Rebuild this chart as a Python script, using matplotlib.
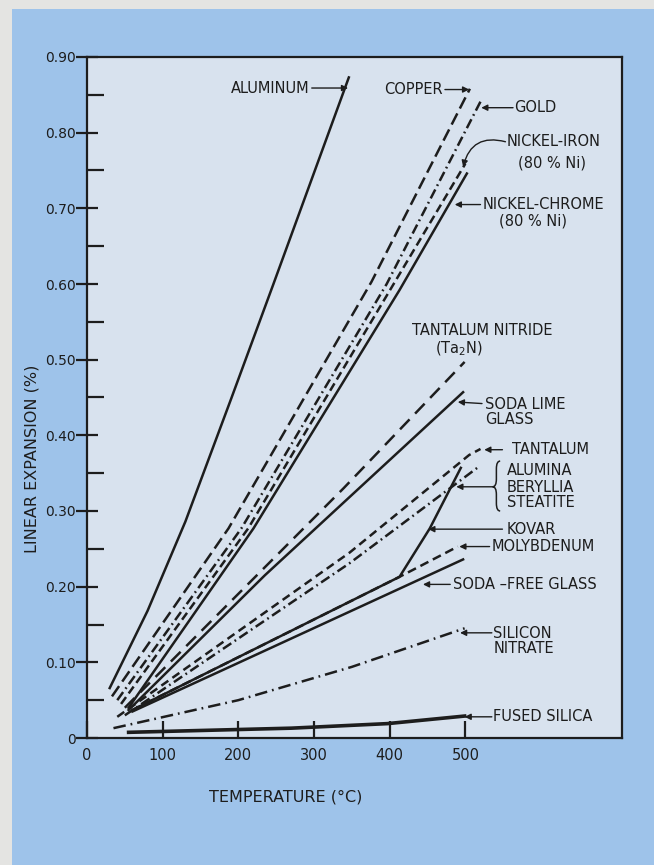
import matplotlib.pyplot as plt
from matplotlib.patches import Rectangle, PathPatch
from matplotlib.path import Path

# temperature (deg C) / linear expansion (%)
aluminum_t = [30, 80, 130, 190, 246, 346]
aluminum_e = [0.066, 0.168, 0.286, 0.447, 0.599, 0.873]
copper_t = [33, 187, 376, 506]
copper_e = [0.055, 0.277, 0.603, 0.858]
gold_t = [40, 204, 396, 521]
gold_e = [0.050, 0.277, 0.600, 0.843]
nickel_iron_t = [45, 213, 407, 500]
nickel_iron_e = [0.045, 0.277, 0.603, 0.759]
nickel_chrome_t = [55, 220, 413, 502]
nickel_chrome_e = [0.040, 0.277, 0.592, 0.746]
ta_nitride_t = [50, 339, 499]
ta_nitride_e = [0.040, 0.330, 0.497]
soda_lime_t = [55, 235, 497]
soda_lime_e = [0.037, 0.215, 0.457]
tantalum_t = [40, 347, 505, 520]
tantalum_e = [0.028, 0.245, 0.374, 0.382]
alumina_t = [50, 347, 517]
alumina_e = [0.030, 0.231, 0.358]
kovar_t = [60, 413, 453, 494]
kovar_e = [0.037, 0.213, 0.277, 0.357]
molybdenum_t = [60, 413, 490]
molybdenum_e = [0.037, 0.213, 0.253]
soda_free_t = [60, 182, 497]
soda_free_e = [0.035, 0.091, 0.236]
si_nitrate_t = [35, 200, 350, 499]
si_nitrate_e = [0.013, 0.050, 0.094, 0.145]
fused_silica_t = [55, 270, 397, 499]
fused_silica_e = [0.0075, 0.013, 0.019, 0.029]

x_ticks = [0, 100, 200, 300, 400, 500]
y_ticks = [0, 0.1, 0.2, 0.3, 0.4, 0.5, 0.6, 0.7, 0.8, 0.9]
y_tick_labels = ['0', '0.10', '0.20', '0.30', '0.40', '0.50', '0.60', '0.70', '0.80', '0.90']

ink = '#1d1d1d'
plt.rcParams['font.family'] = 'DejaVu Sans'
plt.rcParams['mathtext.default'] = 'regular'

fig = plt.figure(figsize=(6.54, 8.65), dpi=100)
fig.patch.set_facecolor('#e4e4e2')
fig.add_artist(Rectangle((12 / 654, 0), 1, 1 - 9 / 865, transform=fig.transFigure,
                         facecolor='#9ec3ea', edgecolor='none', zorder=-1))

ax = fig.add_axes([87 / 654, 1 - 738 / 865, 535 / 654, 681 / 865])
ax.set_facecolor('#d8e2ee')

lw = 1.8
ax.plot(aluminum_t, aluminum_e, color=ink, lw=lw)
ax.plot(copper_t, copper_e, color=ink, lw=lw, linestyle=(0, (5, 2.2)))
ax.plot(gold_t, gold_e, color=ink, lw=lw, linestyle=(0, (4, 1.6, 0.7, 1.6)))
ax.plot(nickel_iron_t, nickel_iron_e, color=ink, lw=lw, linestyle=(0, (3.4, 1.8)))
ax.plot(nickel_chrome_t, nickel_chrome_e, color=ink, lw=lw)
ax.plot(ta_nitride_t, ta_nitride_e, color=ink, lw=lw, linestyle=(0, (5.5, 3.2)))
ax.plot(soda_lime_t, soda_lime_e, color=ink, lw=lw)
ax.plot(tantalum_t, tantalum_e, color=ink, lw=lw, linestyle=(0, (3.4, 2)))
ax.plot(alumina_t, alumina_e, color=ink, lw=lw, linestyle=(0, (4, 1.6, 0.7, 1.6)))
ax.plot(molybdenum_t, molybdenum_e, color=ink, lw=lw, linestyle=(0, (3.6, 2)))
ax.plot(kovar_t, kovar_e, color=ink, lw=lw)
ax.plot(soda_free_t, soda_free_e, color=ink, lw=lw)
ax.plot(si_nitrate_t, si_nitrate_e, color=ink, lw=lw, linestyle=(0, (5, 2, 0.7, 2)))
ax.plot(fused_silica_t, fused_silica_e, color=ink, lw=2.6)

ax.set_xlim(0, 707)
ax.set_ylim(0, 0.9)
ax.set_xticks(x_ticks)
ax.set_yticks(y_ticks)
ax.set_yticklabels(y_tick_labels)
ax.set_yticks([0.05 + 0.1 * i for i in range(9)], minor=True)
ax.tick_params(axis='x', direction='in', length=12, width=1.6, pad=7, labelsize=10.5, colors=ink)
ax.tick_params(axis='y', which='major', direction='inout', length=16, width=1.6, pad=0,
               labelsize=10, colors=ink)
ax.tick_params(axis='y', which='minor', direction='in', length=12, width=1.6, colors=ink)
for s in ax.spines.values():
    s.set_linewidth(1.6)
    s.set_color(ink)

ax.set_xlabel('TEMPERATURE (°C)', fontsize=11.5, color=ink)
ax.xaxis.set_label_coords(0.372, -0.076)
ax.set_ylabel('LINEAR EXPANSION (%)', fontsize=11.5, color=ink, va='center')
ax.yaxis.set_label_coords(-0.103, 0.41)

fs = 10.5
arrow = dict(arrowstyle='-|>', color=ink, lw=1.0, mutation_scale=9, shrinkA=0, shrinkB=0)


def pointer(t0, e0, t1, e1, rad=0.0):
    props = dict(arrow)
    if rad:
        props['connectionstyle'] = 'arc3,rad=%s' % rad
    ax.annotate('', xy=(t1, e1), xytext=(t0, e0), arrowprops=props)


def brace(tip, stem, end, top, mid, bottom):
    r = (top - mid) * 0.3
    verts = [(end, top), (stem, top), (stem, top - r), (stem, mid + r),
             (stem, mid), (tip, mid), (stem, mid), (stem, mid - r),
             (stem, bottom + r), (stem, bottom), (end, bottom)]
    codes = [Path.MOVETO, Path.CURVE3, Path.CURVE3, Path.LINETO,
             Path.CURVE3, Path.CURVE3, Path.CURVE3, Path.CURVE3,
             Path.LINETO, Path.CURVE3, Path.CURVE3]
    ax.add_patch(PathPatch(Path(verts, codes), facecolor='none', edgecolor=ink, lw=1.1))


ax.text(294, 0.859, 'ALUMINUM', ha='right', va='center', fontsize=fs, color=ink)
pointer(297, 0.859, 345, 0.859)
ax.text(470, 0.857, 'COPPER', ha='right', va='center', fontsize=fs, color=ink)
pointer(473, 0.857, 505, 0.857)
ax.text(565, 0.833, 'GOLD', ha='left', va='center', fontsize=fs, color=ink)
pointer(563, 0.833, 521, 0.833)
ax.text(555, 0.788, 'NICKEL-IRON', ha='left', va='center', fontsize=fs, color=ink)
ax.text(569, 0.760, '(80 % Ni)', ha='left', va='center', fontsize=fs, color=ink)
pointer(553, 0.788, 497, 0.755, rad=0.5)
ax.text(523, 0.705, 'NICKEL-CHROME', ha='left', va='center', fontsize=fs, color=ink)
ax.text(545, 0.683, '(80 % Ni)', ha='left', va='center', fontsize=fs, color=ink)
pointer(520, 0.705, 486, 0.705)
ax.text(429, 0.539, 'TANTALUM NITRIDE', ha='left', va='center', fontsize=fs, color=ink)
ax.text(460, 0.515, '(Ta$_2$N)', ha='left', va='center', fontsize=fs, color=ink)
ax.text(526, 0.441, 'SODA LIME', ha='left', va='center', fontsize=fs, color=ink)
ax.text(526, 0.421, 'GLASS', ha='left', va='center', fontsize=fs, color=ink)
pointer(522, 0.442, 490, 0.444)
ax.text(561, 0.381, 'TANTALUM', ha='left', va='center', fontsize=fs, color=ink)
pointer(549, 0.381, 525, 0.381)
ax.text(555, 0.353, 'ALUMINA', ha='left', va='center', fontsize=fs, color=ink)
ax.text(555, 0.331, 'BERYLLIA', ha='left', va='center', fontsize=fs, color=ink)
ax.text(555, 0.311, 'STEATITE', ha='left', va='center', fontsize=fs, color=ink)
brace(536, 541, 546, 0.366, 0.332, 0.300)
pointer(536, 0.332, 488, 0.332)
ax.text(554, 0.276, 'KOVAR', ha='left', va='center', fontsize=fs, color=ink)
pointer(549, 0.276, 451, 0.276)
ax.text(535, 0.253, 'MOLYBDENUM', ha='left', va='center', fontsize=fs, color=ink)
pointer(532, 0.253, 492, 0.253)
ax.text(484, 0.203, 'SODA –FREE GLASS', ha='left', va='center', fontsize=fs, color=ink)
pointer(480, 0.203, 444, 0.203)
ax.text(537, 0.138, 'SILICON', ha='left', va='center', fontsize=fs, color=ink)
ax.text(537, 0.1185, 'NITRATE', ha='left', va='center', fontsize=fs, color=ink)
pointer(535, 0.139, 493, 0.139)
ax.text(537, 0.028, 'FUSED SILICA', ha='left', va='center', fontsize=fs, color=ink)
pointer(535, 0.028, 499, 0.028)

plt.savefig('out.png', dpi=100, facecolor=fig.get_facecolor())
